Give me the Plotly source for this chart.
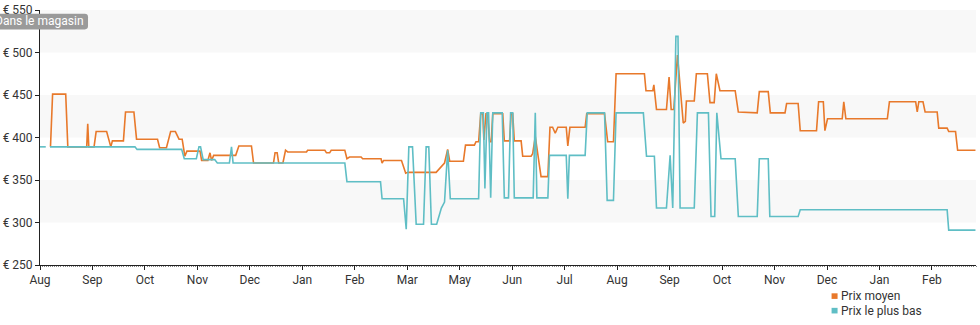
import plotly.graph_objects as go

# Month tick labels along the evenly spaced position axis (no April period in the data)
tick_labels = ["Aug", "Sep", "Oct", "Nov", "Dec", "Jan", "Feb", "Mar", "May",
               "Jun", "Jul", "Aug", "Sep", "Oct", "Nov", "Dec", "Jan", "Feb"]

# Average price ("Prix moyen"): position in months, price in euros
avg_pos = [0.20, 0.24, 0.49, 0.53, 0.89, 0.91, 0.93, 1.03, 1.07, 1.27, 1.35, 1.38, 1.59, 1.63,
           1.79, 1.84, 2.24, 2.28, 2.41, 2.49, 2.58, 2.65, 2.71, 2.76, 2.80, 3.05, 3.08, 3.20,
           3.24, 3.27, 3.31, 3.73, 3.79, 4.03, 4.07, 4.45, 4.48, 4.52, 4.55, 4.63, 4.68, 4.72,
           5.08, 5.10, 5.43, 5.46, 5.52, 5.55, 5.81, 5.85, 5.90, 6.12, 6.15, 6.50, 6.52, 6.55,
           6.89, 6.97, 7.01, 7.55, 7.71, 7.77, 7.81, 8.07, 8.11, 8.28, 8.31, 8.36, 8.40, 8.44,
           8.46, 8.50, 8.53, 8.57, 8.60, 8.63, 8.82, 8.85, 8.95, 8.98, 9.01, 9.04, 9.17, 9.20,
           9.36, 9.39, 9.44, 9.55, 9.68, 9.72, 9.77, 9.82, 9.87, 10.03, 10.06, 10.10, 10.39,
           10.42, 10.76, 10.82, 10.93, 10.98, 11.52, 11.55, 11.68, 11.70, 11.75, 11.94, 11.99,
           12.03, 12.08, 12.15, 12.26, 12.30, 12.32, 12.47, 12.51, 12.72, 12.77, 12.85, 12.89,
           12.96, 13.25, 13.31, 13.67, 13.71, 13.88, 13.92, 14.20, 14.23, 14.45, 14.49, 14.80,
           14.84, 14.93, 14.96, 15.01, 15.29, 15.32, 15.36, 16.15, 16.19, 16.69, 16.72, 16.75,
           16.83, 16.87, 17.10, 17.13, 17.29, 17.32, 17.45, 17.49, 17.83]
avg_price = [389, 451, 451, 389, 389, 416, 389, 389, 407, 407, 389, 396, 396, 430,
             430, 398, 398, 388, 388, 407, 407, 398, 398, 378, 384, 384, 373, 373,
             382, 373, 379, 379, 390, 390, 370, 370, 382, 382, 370, 370, 385, 383,
             383, 385, 385, 382, 382, 385, 385, 375, 377, 377, 375, 375, 370, 373,
             373, 358, 359, 359, 370, 386, 372, 372, 391, 391, 395, 395, 428, 428,
             397, 428, 428, 395, 395, 428, 428, 396, 396, 428, 428, 396, 396, 378,
             378, 381, 401, 354, 354, 412, 412, 405, 412, 412, 390, 412, 412,
             428, 428, 395, 395, 475, 475, 455, 455, 462, 433, 433, 471,
             433, 433, 497, 417, 419, 443, 443, 475, 475, 441, 441, 475,
             455, 455, 430, 429, 454, 454, 429, 429, 440, 440, 408, 408,
             442, 442, 408, 422, 422, 442, 422, 422, 442, 442, 430, 442,
             442, 430, 430, 411, 411, 407, 407, 385, 385]

# Lowest price ("Prix le plus bas"); None marks a short gap at the start
low_pos = [0.00, 0.11, None, 0.19, 1.81, 1.85, 2.70, 2.75, 2.98, 3.03, 3.06, 3.11, 3.33, 3.38,
           3.61, 3.65, 3.68, 5.81, 5.85, 6.49, 6.52, 6.93, 6.98, 7.03, 7.10, 7.17, 7.31, 7.36,
           7.41, 7.46, 7.56, 7.65, 7.71, 7.77, 7.82, 8.36, 8.40, 8.45, 8.48, 8.52, 8.55, 8.59,
           8.63, 8.81, 8.85, 8.93, 8.97, 9.01, 9.04, 9.40, 9.44, 9.47, 9.68, 9.71, 10.03, 10.06,
           10.09, 10.39, 10.43, 10.76, 10.81, 10.93, 10.98, 11.50, 11.56, 11.71, 11.75, 11.94,
           12.01, 12.06, 12.12, 12.16, 12.20, 12.47, 12.53, 12.74, 12.79, 12.86, 12.90, 12.98,
           13.25, 13.31, 13.67, 13.71, 13.88, 13.91, 14.45, 14.49, 17.29, 17.32, 17.83]
low_price = [389, 389, None, 389, 389, 386, 386, 375, 375, 389, 389, 374, 374, 370,
             370, 389, 370, 370, 348, 348, 328, 328, 292, 389, 389, 298, 298, 389,
             389, 298, 298, 317, 324, 385, 328, 328, 429, 429, 340, 429, 429, 329,
             429, 429, 329, 329, 429, 429, 329, 329, 429, 329, 329, 379, 379, 328,
             379, 379, 429, 429, 326, 326, 429, 429, 378, 378, 317, 317,
             379, 317, 519, 519, 317, 317, 429, 429, 307, 307, 429, 375,
             375, 307, 307, 375, 375, 307, 307, 315, 315, 291, 291]

# Shaded horizontal bands on the value axis
band_ranges = [(300, 350), (400, 450), (500, 550)]
y_ticks = [250, 300, 350, 400, 450, 500, 550]

ORANGE = "#e8792b"
TEAL = "#5fbec5"
TEXT = "#333333"
FONT = "Roboto, 'Noto Sans', sans-serif"

fig = go.Figure()
fig.add_trace(go.Scatter(x=avg_pos, y=avg_price, mode="lines", name="Prix moyen",
                         line=dict(color=ORANGE, width=1.6), showlegend=False,
                         hoverinfo="skip"))
fig.add_trace(go.Scatter(x=low_pos, y=low_price, mode="lines", name="Prix le plus bas",
                         line=dict(color=TEAL, width=1.6), showlegend=False,
                         connectgaps=False, hoverinfo="skip"))

shapes = []
for lo, hi in band_ranges:
    shapes.append(dict(type="rect", xref="paper", yref="paper", x0=0, x1=1,
                       y0=(lo - 250) / 300, y1=(hi - 250) / 300,
                       fillcolor="#f8f8f8", line=dict(width=0), layer="below"))


def rounded_box(x0, x1, y0, y1, rx, ry):
    """SVG path of a rectangle with rounded corners in paper coordinates."""
    return (f"M {x0 + rx},{y0} L {x1 - rx},{y0} Q {x1},{y0} {x1},{y0 + ry} "
            f"L {x1},{y1 - ry} Q {x1},{y1} {x1 - rx},{y1} L {x0 + rx},{y1} "
            f"Q {x0},{y1} {x0},{y1 - ry} L {x0},{y0 + ry} Q {x0},{y0} {x0 + rx},{y0} Z")


# Rounded grey badge behind the "Dans le magasin" tag
shapes.append(dict(type="path", xref="paper", yref="paper",
                   path=rounded_box(-0.050, 0.0513, 0.924, 0.985, 0.0035, 0.013),
                   fillcolor="#9a9a9a", line=dict(width=0)))

# Legend drawn as small colour squares with labels below the plot
legend_items = [("Prix moyen", ORANGE), ("Prix le plus bas", TEAL)]
annotations = []
for i, (label, color) in enumerate(legend_items):
    yc = -0.122 - i * 0.057
    shapes.append(dict(type="rect", xref="paper", yref="paper",
                       x0=0.8457, x1=0.8521, y0=yc - 0.011, y1=yc + 0.011,
                       fillcolor=color, line=dict(width=0)))
    annotations.append(dict(text=label, xref="paper", yref="paper", x=0.854, y=yc,
                            xanchor="left", yanchor="middle", showarrow=False,
                            font=dict(family=FONT, size=12, color=TEXT)))

annotations.append(dict(text="Dans le magasin", xref="paper", yref="paper",
                        x=-0.0010, y=0.955, xanchor="center", yanchor="middle",
                        showarrow=False,
                        font=dict(family=FONT, size=12, color="white")))

fig.update_layout(
    width=980, height=325,
    margin=dict(l=40, r=4, t=10, b=60),
    paper_bgcolor="white", plot_bgcolor="white",
    font=dict(family=FONT, size=12, color=TEXT),
    shapes=shapes, annotations=annotations,
    showlegend=False,
    xaxis=dict(range=[0, 17.84], tickvals=list(range(len(tick_labels))), ticktext=tick_labels,
               showgrid=False, zeroline=False, showline=True, linecolor="#222", linewidth=1,
               ticks="outside", ticklen=4, tickcolor="#222",
               minor=dict(dtick=0.04, ticks="outside", ticklen=1, tickcolor="#888"),
               tickfont=dict(family=FONT, size=12, color=TEXT), fixedrange=True),
    yaxis=dict(range=[250, 550], tickvals=y_ticks, ticktext=[f"€ {v}" for v in y_ticks],
               showgrid=False, zeroline=False, showline=True, linecolor="#222", linewidth=1,
               ticks="outside", ticklen=4, tickcolor="#222",
               tickfont=dict(family=FONT, size=12, color=TEXT), fixedrange=True),
)

fig.write_html("out.html", config={"displayModeBar": False})
